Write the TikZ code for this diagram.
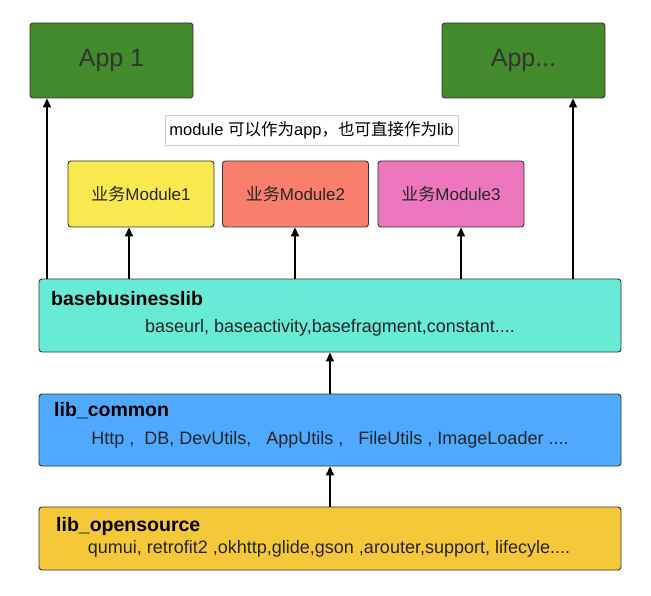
\documentclass[tikz,border=0pt]{standalone}
\usepackage{fontspec}
\setmainfont{Liberation Sans}
\newfontfamily\cjk{Noto Sans CJK SC}
\usetikzlibrary{arrows.meta}
\definecolor{appgreen}{RGB}{67,138,44}
\definecolor{modyellow}{RGB}{249,233,78}
\definecolor{modsalmon}{RGB}{249,127,108}
\definecolor{modpink}{RGB}{236,119,189}
\definecolor{basecyan}{RGB}{103,235,214}
\definecolor{commonblue}{RGB}{78,169,255}
\definecolor{openyellow}{RGB}{245,200,58}
\tikzset{
  box/.style={draw=black!80, rounded corners=3pt, line width=0.9pt},
  appbox/.style={box, fill=appgreen, minimum width=163pt, minimum height=75pt, font=\fontsize{25}{30}\selectfont, text=black!80},
  modbox/.style={box, minimum width=146pt, minimum height=66pt, font=\fontsize{17}{20}\selectfont, text=black!85},
  libbox/.style={box, minimum width=582pt},
  libtitle/.style={anchor=west, inner sep=0pt, font=\fontsize{19.5}{22}\selectfont\bfseries},
  libtext/.style={inner sep=0pt, font=\fontsize{18}{21}\selectfont, text=black!85},
  arr/.style={-{Triangle[length=9pt,width=8pt]}, line width=1.6pt}
}
\begin{document}
\begin{tikzpicture}[x=1pt,y=-1pt]
  \useasboundingbox (0,0) rectangle (651,596);
  % apps
  \node[appbox] (app1) at (111.5,60.5) {App 1};
  \node[appbox] (appn) at (523.5,60.5) {App...};
  \node[draw=black!20, line width=0.8pt, fill=white, minimum width=293pt, minimum height=30pt,
        font=\fontsize{16.5}{20}\selectfont] (note) at (311.5,130)
        {module {\cjk 可以作为}app{\cjk ，也可直接作为}lib};
  % business modules
  \node[modbox, fill=modyellow] (mod1) at (141,194) {{\cjk 业务}Module1};
  \node[modbox, fill=modsalmon] (mod2) at (295.5,194) {{\cjk 业务}Module2};
  \node[modbox, fill=modpink] (mod3) at (451,194) {{\cjk 业务}Module3};
  % libraries
  \node[libbox, fill=basecyan, minimum height=73pt] (base) at (330,315.5) {};
  \node[libtitle] (basetitle) at (51,299) {basebusinesslib};
  \node[libtext] (basetext) at (330,328) {baseurl, baseactivity,basefragment,constant....};
  \node[libbox, fill=commonblue, minimum height=72pt] (common) at (330,430) {};
  \node[libtitle] (commontitle) at (54,411) {lib\_common};
  \node[libtext] (commontext) at (330,440)
        {Http ,\ \ DB, DevUtils,\ \ \ AppUtils ,\ \ \ FileUtils , ImageLoader ....};
  \node[libbox, fill=openyellow, minimum height=63pt] (open) at (330,538.5) {};
  \node[libtitle] (opentitle) at (56,526) {lib\_opensource};
  \node[libtext] (opentext) at (329,549)
        {qumui, retrofit2 ,okhttp,glide,gson ,arouter,support, lifecyle....};
  % arrows
  \coordinate (c1) at (47,0);
  \coordinate (c2) at (129,0);
  \coordinate (c3) at (295,0);
  \coordinate (c4) at (461,0);
  \coordinate (c5) at (573,0);
  \draw[arr] (base.north -| c1) -- (app1.south -| c1);
  \draw[arr] (base.north -| c2) -- (mod1.south -| c2);
  \draw[arr] (base.north -| c3) -- (mod2.south -| c3);
  \draw[arr] (base.north -| c4) -- (mod3.south -| c4);
  \draw[arr] (base.north -| c5) -- (appn.south -| c5);
  \draw[arr] (common.north) -- (base.south);
  \draw[arr] (open.north) -- (common.south);
\end{tikzpicture}
\end{document}
